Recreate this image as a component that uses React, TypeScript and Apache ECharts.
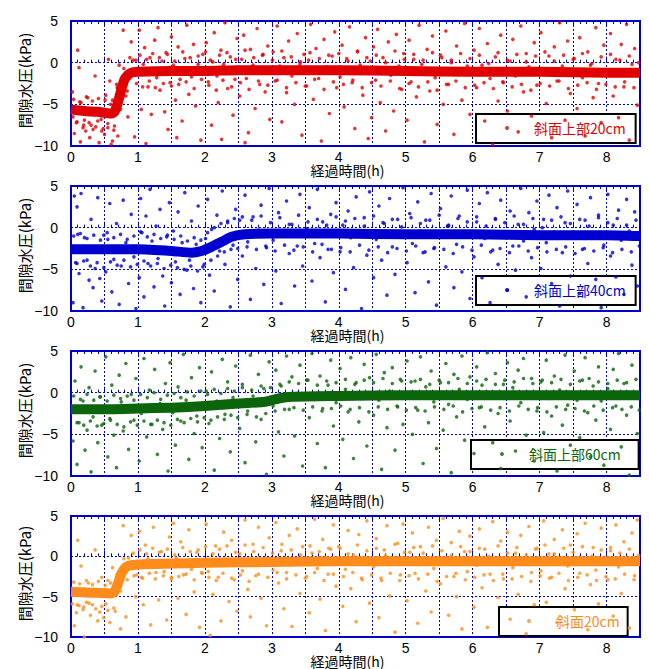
import React, { useEffect, useRef } from "react";
import * as echarts from "echarts";

// ---- data ----
const seriesNames = ["斜面上部20cm", "斜面上部40cm", "斜面上部60cm", "斜面20cm"];
const xAxisName = "経過時間(h)";
const yAxisName = "間隙水圧(kPa)";
const xMin = 0, xMax = 8.5, xStep = 0.5;
const yMin = -10, yMax = 5, yStep = 5;

// dense band (trend of the majority of readings)
const band1 = [[0,-5.6],[0.2,-5.8],[0.4,-5.9],[0.6,-6.1],[0.65,-5.9],[0.7,-4.8],[0.75,-3.3],[0.8,-2.0],[0.85,-1.5],[0.9,-1.2],[1.0,-1.1],[1.5,-1.0],[2,-1.0],[2.5,-0.9],[3,-0.9],[4,-0.9],[5,-1.0],[6,-1.1],[7,-1.1],[8,-1.2],[8.5,-1.2]];
const band2 = [[0,-2.6],[0.5,-2.6],[1,-2.6],[1.5,-2.8],[1.8,-3.0],[1.95,-2.8],[2.1,-2.3],[2.25,-1.7],[2.4,-1.1],[2.6,-0.8],[3,-0.7],[4,-0.7],[5,-0.8],[6,-0.8],[7,-0.9],[8,-0.9],[8.5,-1.0]];
const band3 = [[0,-2.0],[0.5,-2.0],[1,-1.9],[1.5,-1.8],[2,-1.6],[2.5,-1.3],[2.9,-1.1],[3.1,-0.7],[3.3,-0.5],[4,-0.4],[5,-0.3],[6,-0.3],[7,-0.3],[8,-0.3],[8.5,-0.3]];
const band4 = [[0,-4.4],[0.3,-4.5],[0.6,-4.6],[0.65,-4.4],[0.7,-3.4],[0.75,-2.2],[0.8,-1.5],[0.85,-1.2],[0.9,-1.1],[1,-1.0],[1.5,-0.9],[2,-0.8],[3,-0.7],[4,-0.6],[5,-0.6],[6,-0.6],[7,-0.6],[8,-0.6],[8.5,-0.6]];

// scattered readings far from the band
const scatter1 = [[0.02,-3.5],[0.05,-8.5],[0.08,-7.2],[0.1,1.5],[0.12,-0.6],[0.14,-9.5],[0.18,-7.8],[0.2,-6.9],[0.22,-8.2],[0.25,-4.2],[0.28,-9.0],[0.3,-7.5],[0.33,-8.0],[0.36,-1.6],[0.4,-7.0],[0.42,-9.6],[0.45,-6.8],[0.48,-7.9],[0.03,-6.5],[0.15,-4.8],
[0.5,-8.6],[0.52,-3.9],[0.55,-7.3],[0.58,-2.2],[0.6,-9.8],[0.62,-4.5],[0.65,-7.6],[0.68,-2.6],[0.7,-8.8],[0.72,-0.3],[0.78,3.9],[0.82,-4.0],[0.85,-6.5],[0.88,0.6],[0.9,2.5],[0.95,-8.9],[0.97,0.3],[0.56,0.4],[0.62,-9.4],
[1.02,3.9],[1.05,-5.6],[1.08,-0.2],[1.1,1.8],[1.15,-2.9],[1.18,0.6],[1.2,-6.2],[1.25,2.7],[1.28,-1.8],[1.3,4.2],[1.33,-3.3],[1.36,0.2],[1.4,-5.9],[1.42,1.2],[1.45,-8.0],[1.48,-2.4],[1.12,-9.7],
[1.5,3.1],[1.53,-0.3],[1.56,-4.5],[1.6,1.9],[1.63,-2.0],[1.66,-7.0],[1.7,0.5],[1.73,4.5],[1.76,-3.8],[1.8,-1.7],[1.83,2.2],[1.86,-5.2],[1.9,-0.2],[1.94,-9.3],[1.97,1.0],[1.58,-9.0],
[2.02,2.4],[2.05,-2.3],[2.08,0.3],[2.1,-7.5],[2.14,3.6],[2.18,-1.6],[2.2,-4.8],[2.24,1.5],[2.28,-0.2],[2.3,4.8],[2.34,-3.1],[2.38,0.7],[2.42,-6.3],[2.45,-2.0],[2.48,2.9],[2.25,-9.2],
[2.52,-4.0],[2.55,0.4],[2.58,3.3],[2.62,-1.9],[2.65,-8.4],[2.68,1.6],[2.72,-0.3],[2.75,-5.5],[2.78,4.1],[2.82,-2.6],[2.86,0.9],[2.9,-3.5],[2.94,2.0],[2.97,-6.8],[2.6,-9.6],
[3.02,1.3],[3.05,-2.2],[3.08,4.4],[3.12,-0.4],[3.15,-7.1],[3.18,0.6],[3.22,-3.6],[3.25,2.6],[3.3,-1.6],[3.34,-5.0],[3.38,3.5],[3.42,-0.2],[3.45,-8.7],[3.48,1.0],
[3.52,-2.8],[3.55,0.3],[3.58,4.6],[3.62,-4.4],[3.66,1.7],[3.7,-1.9],[3.74,-9.4],[3.78,2.8],[3.82,-0.5],[3.86,-6.1],[3.9,0.8],[3.94,3.7],[3.97,-3.0],
[4.02,-1.7],[4.05,2.1],[4.08,-5.3],[4.12,0.5],[4.16,4.3],[4.2,-2.4],[4.24,-7.9],[4.28,1.4],[4.32,-0.3],[4.36,-3.9],[4.4,3.0],[4.44,-9.1],[4.47,0.2],[4.49,-6.6],
[4.52,1.9],[4.55,-2.1],[4.58,4.0],[4.62,-4.8],[4.66,0.6],[4.7,-8.2],[4.74,2.5],[4.78,-1.5],[4.82,-5.8],[4.86,3.4],[4.9,-0.4],[4.94,-3.2],[4.97,1.1],
[5.02,-6.9],[5.05,2.7],[5.08,-2.3],[5.12,0.4],[5.16,-4.1],[5.2,4.5],[5.24,-0.2],[5.28,-9.5],[5.32,1.6],[5.36,-3.4],[5.4,3.2],[5.44,-1.8],[5.47,-7.4],
[5.52,0.9],[5.56,-5.0],[5.6,3.8],[5.64,-2.6],[5.68,0.3],[5.72,-8.6],[5.76,2.0],[5.8,-1.4],[5.84,-4.5],[5.88,4.7],[5.92,-0.4],[5.96,-6.2],
[6.02,1.5],[6.06,-3.0],[6.1,4.1],[6.14,-0.3],[6.18,-7.0],[6.22,2.3],[6.26,-1.9],[6.3,-9.8],[6.34,0.7],[6.38,-4.6],[6.42,3.3],[6.46,-2.4],
[6.52,-5.8],[6.56,0.2],[6.6,2.8],[6.64,-1.6],[6.68,-8.3],[6.72,4.4],[6.76,-3.5],[6.8,1.1],[6.84,-0.5],[6.88,-6.4],[6.92,2.4],[6.96,-2.7],
[7.02,3.6],[7.06,-1.3],[7.1,-4.9],[7.14,0.8],[7.18,-9.0],[7.22,1.9],[7.26,-2.2],[7.3,4.8],[7.34,-0.4],[7.38,-6.9],[7.42,2.6],[7.46,-3.7],
[7.52,0.5],[7.56,-5.5],[7.6,3.0],[7.64,-1.8],[7.68,-8.8],[7.72,1.3],[7.76,-0.3],[7.8,-4.2],[7.84,4.2],[7.88,-2.5],[7.92,-7.2],[7.96,2.1],
[8.02,-1.5],[8.06,3.5],[8.1,-4.0],[8.14,0.4],[8.18,-6.6],[8.22,2.2],[8.26,-2.9],[8.3,4.6],[8.34,-9.3],[8.38,-0.2],[8.42,1.7],[8.46,-5.1]];

const scatter2 = [[0.03,-9.0],[0.05,3.8],[0.07,-4.2],[0.09,2.5],[0.1,-0.8],[0.12,-5.5],[0.15,4.1],[0.18,-9.6],[0.2,-1.2],[0.24,-3.9],[0.27,-6.3],[0.3,1.0],[0.33,-7.2],[0.36,-4.9],[0.4,3.6],[0.43,-6.1],[0.46,-8.8],[0.49,-0.9],
[0.52,-5.3],[0.55,-1.4],[0.58,2.9],[0.61,-7.7],[0.64,-3.8],[0.68,0.5],[0.72,-9.2],[0.75,-4.6],[0.78,3.3],[0.82,-1.8],[0.86,-6.7],[0.9,1.6],[0.94,-3.5],[0.97,-9.7],
[1.02,-6.0],[1.04,3.5],[1.06,-0.6],[1.09,-8.3],[1.12,1.4],[1.15,-4.3],[1.18,4.6],[1.21,-1.6],[1.24,-7.1],[1.27,0.2],[1.3,-3.7],[1.33,2.2],[1.37,-5.8],[1.4,-9.4],[1.43,-1.1],[1.47,3.0],
[1.5,-6.6],[1.53,-0.4],[1.56,-4.1],[1.6,1.9],[1.63,-8.0],[1.66,-1.8],[1.7,4.2],[1.73,-5.1],[1.77,-3.9],[1.8,0.8],[1.83,-7.3],[1.87,-2.0],[1.9,2.6],[1.94,-9.0],[1.97,-4.7],
[2.01,-1.3],[2.04,3.4],[2.07,-5.7],[2.1,-0.2],[2.14,-7.6],[2.18,1.5],[2.22,-2.8],[2.26,4.4],[2.3,-4.4],[2.34,0.6],[2.38,-9.5],[2.42,-2.1],[2.46,2.2],[2.49,-6.2],
[2.52,0.9],[2.56,-3.4],[2.6,3.9],[2.64,-1.7],[2.68,-8.6],[2.72,1.3],[2.76,-4.9],[2.8,-0.3],[2.84,2.7],[2.88,-6.8],[2.92,-2.4],[2.96,4.7],
[3.02,-1.5],[3.06,-5.2],[3.1,1.8],[3.14,-9.1],[3.18,-0.5],[3.22,3.2],[3.26,-3.1],[3.3,0.4],[3.34,-7.0],[3.38,-2.2],[3.42,4.0],[3.46,-4.6],
[3.52,-0.1],[3.56,2.4],[3.6,-6.4],[3.64,-1.9],[3.68,4.6],[3.72,-3.6],[3.76,0.7],[3.8,-8.9],[3.84,-2.6],[3.88,1.6],[3.92,-5.4],[3.96,3.0],
[4.02,-2.9],[4.06,0.3],[4.1,-7.4],[4.14,2.0],[4.18,-1.2],[4.22,-4.8],[4.26,3.7],[4.3,-0.6],[4.34,-9.7],[4.38,1.2],[4.42,-3.3],[4.46,4.3],
[4.52,-6.0],[4.56,-1.4],[4.6,2.6],[4.64,-3.9],[4.68,0.5],[4.72,-8.1],[4.76,3.5],[4.8,-2.3],[4.84,-5.6],[4.88,1.0],[4.92,-0.8],[4.96,4.8],
[5.02,-4.2],[5.06,1.7],[5.1,-1.9],[5.14,-7.8],[5.18,3.1],[5.22,-0.4],[5.26,-3.0],[5.3,0.9],[5.34,-6.5],[5.38,4.1],[5.42,-2.5],[5.46,-9.3],
[5.52,2.3],[5.56,-1.1],[5.6,-4.7],[5.64,0.2],[5.68,3.8],[5.72,-7.2],[5.76,-2.0],[5.8,1.4],[5.84,-5.3],[5.88,-0.6],[5.92,4.5],[5.96,-8.5],
[6.02,-3.5],[6.06,0.7],[6.1,2.9],[6.14,-6.0],[6.18,-1.3],[6.22,4.2],[6.26,-9.0],[6.3,-2.7],[6.34,1.1],[6.38,-4.4],[6.42,3.3],[6.46,-0.9],
[6.52,-7.5],[6.56,2.0],[6.6,-2.2],[6.64,-5.1],[6.68,0.4],[6.72,4.7],[6.76,-1.6],[6.8,-8.3],[6.84,1.8],[6.88,-3.6],[6.92,-0.2],[6.96,3.2],
[7.02,-4.9],[7.06,1.0],[7.1,-1.8],[7.14,3.9],[7.18,-6.7],[7.22,-0.5],[7.26,2.4],[7.3,-9.4],[7.34,-3.0],[7.38,0.6],[7.42,4.4],[7.46,-5.8],
[7.52,-1.2],[7.56,2.8],[7.6,-7.9],[7.64,-2.6],[7.68,0.9],[7.72,-4.3],[7.76,3.6],[7.8,-0.7],[7.84,-6.2],[7.88,1.5],[7.92,-9.6],[7.96,-2.1],
[8.02,4.0],[8.06,-3.4],[8.1,0.3],[8.14,-5.9],[8.18,2.1],[8.22,-1.5],[8.26,-8.0],[8.3,3.4],[8.34,-0.4],[8.38,-4.5],[8.42,1.9],[8.46,-7.0]];

const scatter3 = [[0.03,-5.8],[0.06,1.4],[0.09,-8.6],[0.12,-3.6],[0.15,3.1],[0.18,-1.0],[0.21,-6.9],[0.24,-4.5],[0.27,0.6],[0.3,-9.5],[0.33,-2.9],[0.36,2.6],[0.4,-6.0],[0.43,-0.5],[0.46,-3.9],
[0.52,4.3],[0.55,-7.7],[0.58,-3.1],[0.61,0.9],[0.64,-5.1],[0.68,-9.0],[0.72,2.1],[0.75,-1.1],[0.78,-4.6],[0.82,3.5],[0.86,-6.8],[0.9,-0.2],[0.94,-3.3],[0.97,1.7],
[1.02,-8.2],[1.05,-2.5],[1.09,4.1],[1.13,-5.3],[1.17,0.3],[1.21,-3.8],[1.25,2.8],[1.29,-7.4],[1.33,-1.3],[1.37,-4.4],[1.41,1.1],[1.45,-9.4],[1.48,3.6],
[1.52,-2.4],[1.56,-6.3],[1.6,0.7],[1.64,-3.4],[1.68,4.6],[1.72,-0.9],[1.76,-8.0],[1.8,1.8],[1.84,-4.9],[1.88,-2.8],[1.92,3.0],[1.96,-6.6],
[2.02,0.2],[2.06,-3.7],[2.1,2.5],[2.14,-9.3],[2.18,-1.0],[2.22,-5.5],[2.26,4.0],[2.3,-2.6],[2.34,1.3],[2.38,-7.1],[2.42,-0.6],[2.46,3.2],
[2.52,-4.3],[2.56,1.0],[2.6,-8.4],[2.64,-2.2],[2.68,4.5],[2.72,-0.4],[2.76,-5.9],[2.8,2.2],[2.84,-3.2],[2.88,0.5],[2.92,-9.8],[2.96,3.7],
[3.02,-1.6],[3.06,2.7],[3.1,-4.7],[3.14,0.8],[3.18,-7.6],[3.22,4.4],[3.26,-2.0],[3.3,1.9],[3.34,-5.2],[3.38,-0.1],[3.42,3.3],[3.46,-8.8],
[3.52,1.5],[3.56,-3.0],[3.6,4.7],[3.64,-0.8],[3.68,-6.1],[3.72,2.0],[3.76,-1.9],[3.8,-9.0],[3.84,0.9],[3.88,3.9],[3.92,-4.0],[3.96,-1.2],
[4.02,2.9],[4.06,-5.6],[4.1,0.4],[4.14,-2.3],[4.18,4.2],[4.22,-7.9],[4.26,1.2],[4.3,-3.5],[4.34,-0.7],[4.38,3.4],[4.42,-6.4],[4.46,1.8],
[4.52,-2.7],[4.56,4.6],[4.6,-0.9],[4.64,-9.2],[4.68,2.4],[4.72,-4.2],[4.76,0.2],[4.8,3.0],[4.84,-6.9],[4.88,-1.7],[4.92,1.6],[4.96,-3.8],
[5.02,3.8],[5.06,-0.6],[5.1,-5.0],[5.14,1.4],[5.18,-2.1],[5.22,4.3],[5.26,-8.5],[5.3,0.7],[5.34,-3.6],[5.38,2.6],[5.42,-1.1],[5.46,-6.7],
[5.52,1.2],[5.56,-4.5],[5.6,3.5],[5.64,-1.4],[5.68,-9.6],[5.72,2.2],[5.76,-2.9],[5.8,0.4],[5.84,4.4],[5.88,-5.7],[5.92,-0.8],[5.96,1.9],
[6.02,-7.3],[6.06,3.1],[6.1,-1.8],[6.14,0.9],[6.18,-4.1],[6.22,4.8],[6.26,-0.5],[6.3,-6.0],[6.34,2.3],[6.38,-2.5],[6.42,-9.1],[6.46,1.0],
[6.52,3.6],[6.56,-3.4],[6.6,0.6],[6.64,-7.0],[6.68,2.7],[6.72,-1.2],[6.76,4.1],[6.8,-5.1],[6.84,-0.3],[6.88,1.7],[6.92,-8.2],[6.96,-2.2],
[7.02,1.3],[7.06,-4.8],[7.1,3.9],[7.14,-0.7],[7.18,-2.8],[7.22,2.0],[7.26,-9.4],[7.3,0.3],[7.34,-3.9],[7.38,4.5],[7.42,-1.5],[7.46,-6.3],
[7.52,2.6],[7.56,-0.9],[7.6,-5.4],[7.64,1.5],[7.68,4.2],[7.72,-2.4],[7.76,-7.7],[7.8,0.8],[7.84,-3.3],[7.88,3.1],[7.92,-1.0],[7.96,-8.7],
[8.02,0.5],[8.06,-4.4],[8.1,2.8],[8.14,-1.6],[8.18,4.7],[8.22,-6.5],[8.26,1.1],[8.3,-2.7],[8.34,-9.9],[8.38,3.3],[8.42,-0.4],[8.46,-4.9]];

const scatter4 = [[0.02,-5.9],[0.05,-8.6],[0.08,-7.0],[0.1,2.0],[0.12,-6.1],[0.15,-1.2],[0.18,-6.6],[0.2,-10],[0.23,-5.7],[0.26,-3.3],[0.29,-7.3],[0.32,-6.0],[0.36,0.8],[0.4,-8.0],[0.43,-6.9],[0.46,-2.6],[0.49,-7.6],
[0.52,-5.9],[0.55,-3.0],[0.58,-8.2],[0.62,-1.4],[0.66,-6.8],[0.7,-2.6],[0.74,-9.0],[0.78,3.8],[0.82,-7.5],[0.86,-0.2],[0.9,2.6],[0.94,-2.4],[0.97,-5.0],
[1.02,3.1],[1.05,-2.6],[1.08,-6.0],[1.11,1.4],[1.15,-0.3],[1.19,-8.5],[1.23,3.6],[1.27,-2.0],[1.31,-5.4],[1.35,0.6],[1.39,-1.9],[1.43,-7.9],[1.47,2.4],
[1.5,-2.8],[1.53,4.1],[1.57,-0.2],[1.6,-5.2],[1.64,1.8],[1.68,-2.3],[1.72,-7.2],[1.76,3.3],[1.8,-1.6],[1.84,-4.4],[1.88,0.5],[1.92,-8.8],[1.96,-2.1],
[2.02,4.0],[2.05,-1.9],[2.08,-9.8],[2.12,-4.7],[2.16,1.3],[2.2,-2.6],[2.24,-8.0],[2.28,3.0],[2.32,-0.6],[2.36,-5.6],[2.4,2.0],[2.44,-2.9],[2.48,-6.8],
[2.52,0.3],[2.56,-1.8],[2.6,4.5],[2.64,-4.1],[2.68,-7.5],[2.72,1.5],[2.76,-2.4],[2.8,3.6],[2.84,-5.2],[2.88,-0.4],[2.92,-8.6],[2.96,2.3],
[3.02,-1.7],[3.06,4.2],[3.1,-3.3],[3.14,0.7],[3.18,-6.5],[3.22,-2.0],[3.26,2.6],[3.3,-8.7],[3.34,-0.3],[3.38,3.4],[3.42,-4.6],[3.46,1.2],
[3.52,-2.5],[3.56,-7.0],[3.6,0.4],[3.64,4.6],[3.68,-1.5],[3.72,-5.3],[3.76,2.1],[3.8,-9.2],[3.84,-2.2],[3.88,0.9],[3.92,3.9],[3.96,-3.7],
[4.02,1.0],[4.06,-6.2],[4.1,-1.6],[4.14,3.2],[4.18,-4.0],[4.22,0.2],[4.26,-8.1],[4.3,2.7],[4.34,-2.7],[4.38,-0.2],[4.42,4.4],[4.46,-5.8],
[4.52,-1.3],[4.56,2.2],[4.6,-7.6],[4.64,-3.0],[4.68,0.8],[4.72,3.8],[4.76,-4.9],[4.8,-0.5],[4.84,-9.4],[4.88,1.6],[4.92,-2.3],[4.96,4.0],
[5.02,-5.5],[5.06,0.5],[5.1,2.9],[5.14,-2.1],[5.18,-8.3],[5.22,1.2],[5.26,-0.2],[5.3,-4.3],[5.34,3.6],[5.38,-6.9],[5.42,-1.5],[5.46,2.0],
[5.52,-3.4],[5.56,4.7],[5.6,-0.4],[5.64,-7.3],[5.68,1.7],[5.72,-2.5],[5.76,-5.0],[5.8,3.1],[5.84,-9.0],[5.88,0.6],[5.92,-1.9],[5.96,2.5],
[6.02,-6.3],[6.06,-1.1],[6.1,3.4],[6.14,-3.9],[6.18,0.9],[6.22,-8.8],[6.26,-2.2],[6.3,4.3],[6.34,-0.7],[6.38,-5.1],[6.42,1.9],[6.46,-2.8],
[6.52,3.0],[6.56,-7.8],[6.6,-1.4],[6.64,0.4],[6.68,-4.7],[6.72,2.6],[6.76,-0.3],[6.8,-9.6],[6.84,3.7],[6.88,-2.0],[6.92,-6.0],[6.96,1.0],
[7.02,-1.8],[7.06,4.4],[7.1,-5.7],[7.14,0.3],[7.18,-2.6],[7.22,2.1],[7.26,-8.2],[7.3,-0.9],[7.34,3.3],[7.38,-4.0],[7.42,-1.2],[7.46,1.4],
[7.52,-6.6],[7.56,2.8],[7.6,-2.1],[7.64,-0.4],[7.68,4.1],[7.72,-9.1],[7.76,-3.5],[7.8,1.1],[7.84,-1.7],[7.88,-5.9],[7.92,3.5],[7.96,-0.6],
[8.02,-2.9],[8.06,0.7],[8.1,-7.4],[8.14,3.9],[8.18,-1.3],[8.22,-4.6],[8.26,1.8],[8.3,-0.8],[8.34,-8.9],[8.38,2.9],[8.42,-2.4],[8.46,4.5]];

// readings close to the band (fuzz around it)
const near1 = [[0.04,-4.4],[0.09,-7.1],[0.13,-4.7],[0.19,-7.5],[0.23,-4.1],[0.27,-7.2],[0.32,-4.6],[0.37,-7.7],[0.41,-4.3],[0.46,-8.2],[0.51,-4.5],[0.55,-7.8],[0.59,-5.0],[0.64,-8.1],[0.69,-3.0],[0.74,-5.6],[0.79,-0.7],[0.84,-3.4],
[0.93,0.3],[0.98,-2.5],[1.03,0.9],[1.07,-2.9],[1.13,0.4],[1.17,-2.2],[1.22,1.1],[1.26,-3.0],[1.32,0.6],[1.38,-2.5],[1.44,1.0],[1.5,-2.8],[1.55,0.2],[1.61,-2.6],[1.67,1.3],[1.72,-2.3],[1.78,0.6],[1.84,-3.1],[1.9,0.8],[1.95,-2.0],
[2.01,1.3],[2.06,-2.7],[2.12,0.1],[2.17,-3.3],[2.22,0.9],[2.27,-2.1],[2.33,1.2],[2.4,-2.9],[2.46,0.4],[2.53,-2.4],[2.6,1.5],[2.66,-3.2],[2.73,0.6],[2.8,-2.2],[2.87,1.0],[2.94,-2.7],
[3.01,0.3],[3.08,-2.1],[3.15,1.4],[3.22,-3.0],[3.29,0.7],[3.36,-2.4],[3.43,0.1],[3.5,-2.8],[3.57,1.2],[3.64,-2.0],[3.71,0.5],[3.78,-3.2],[3.85,0.9],[3.92,-2.3],
[4.0,1.1],[4.07,-2.6],[4.14,0.2],[4.21,-2.1],[4.28,1.3],[4.35,-3.0],[4.42,0.6],[4.49,-2.4],[4.56,0.9],[4.63,-2.8],[4.7,0.0],[4.77,-2.2],[4.84,1.4],[4.91,-3.1],
[4.98,0.4],[5.05,-2.5],[5.12,1.0],[5.19,-2.9],[5.26,0.3],[5.33,-2.3],[5.4,1.2],[5.47,-3.3],[5.54,0.6],[5.61,-2.6],[5.68,0.0],[5.75,-2.2],[5.82,1.1],[5.89,-3.0],
[5.96,0.5],[6.03,-2.7],[6.1,0.9],[6.17,-2.4],[6.24,-0.1],[6.31,-3.1],[6.38,1.2],[6.45,-2.3],[6.52,0.3],[6.59,-2.9],[6.66,1.0],[6.73,-2.6],[6.8,0.1],[6.87,-3.3],
[6.94,0.8],[7.01,-2.5],[7.08,1.3],[7.15,-2.8],[7.22,0.2],[7.29,-2.2],[7.36,0.9],[7.43,-3.1],[7.5,0.4],[7.57,-2.7],[7.64,1.1],[7.71,-2.4],[7.78,-0.1],[7.85,-3.2],
[7.92,0.7],[7.99,-2.6],[8.06,1.0],[8.13,-2.9],[8.2,0.3],[8.27,-2.3],[8.34,0.8],[8.41,-3.0],[8.48,0.0]];

const near2 = [[0.04,-1.0],[0.09,-4.3],[0.14,-0.7],[0.19,-4.0],[0.24,-1.3],[0.29,-4.6],[0.34,-0.9],[0.39,-4.2],[0.44,-1.5],[0.49,-4.8],[0.54,-0.6],[0.59,-4.1],[0.64,-1.2],[0.69,-4.5],[0.74,-0.8],[0.79,-3.9],[0.84,-1.4],[0.89,-4.7],[0.94,-1.0],[0.99,-4.4],
[1.04,-0.5],[1.09,-4.0],[1.14,-1.1],[1.19,-4.6],[1.24,-0.8],[1.29,-4.3],[1.34,-1.3],[1.39,-4.9],[1.44,-0.9],[1.49,-4.5],[1.54,-1.4],[1.59,-4.8],[1.64,-1.0],[1.69,-5.0],[1.74,-1.6],[1.79,-4.6],[1.84,-1.2],[1.89,-5.2],[1.94,-1.5],[1.99,-4.4],
[2.04,-0.6],[2.09,-3.9],[2.14,0.0],[2.19,-3.4],[2.24,0.5],[2.29,-2.9],[2.34,0.8],[2.39,-2.6],[2.44,1.1],[2.49,-2.5],[2.56,1.3],[2.63,-2.3],[2.7,0.9],[2.77,-2.6],[2.84,1.4],[2.91,-2.2],[2.98,0.6],
[3.05,-2.8],[3.12,1.2],[3.19,-2.1],[3.26,0.4],[3.33,-2.7],[3.4,1.5],[3.47,-2.3],[3.54,0.7],[3.61,-2.9],[3.68,1.0],[3.75,-2.0],[3.82,0.3],[3.89,-2.6],[3.96,1.3],
[4.03,-2.4],[4.1,0.8],[4.17,-2.9],[4.24,1.1],[4.31,-2.1],[4.38,0.2],[4.45,-2.7],[4.52,1.4],[4.59,-2.3],[4.66,0.6],[4.73,-3.0],[4.8,1.0],[4.87,-2.5],[4.94,0.1],
[5.01,-2.8],[5.08,1.2],[5.15,-2.2],[5.22,0.5],[5.29,-2.9],[5.36,0.9],[5.43,-2.4],[5.5,1.5],[5.57,-2.6],[5.64,0.3],[5.71,-3.1],[5.78,1.1],[5.85,-2.3],[5.92,0.7],
[5.99,-2.7],[6.06,1.3],[6.13,-2.1],[6.2,0.2],[6.27,-2.9],[6.34,1.0],[6.41,-2.5],[6.48,0.6],[6.55,-3.0],[6.62,1.4],[6.69,-2.2],[6.76,0.4],[6.83,-2.8],[6.9,1.1],
[6.97,-2.4],[7.04,0.0],[7.11,-2.9],[7.18,0.9],[7.25,-2.6],[7.32,1.3],[7.39,-2.3],[7.46,0.5],[7.53,-3.1],[7.6,1.0],[7.67,-2.5],[7.74,0.2],[7.81,-2.8],[7.88,1.2],
[7.95,-2.4],[8.02,0.6],[8.09,-3.0],[8.16,1.1],[8.23,-2.6],[8.3,0.3],[8.37,-2.9],[8.44,0.9],[8.49,-2.2]];

const near3 = [[0.04,-0.4],[0.09,-3.6],[0.14,-0.8],[0.19,-3.9],[0.24,-0.2],[0.29,-3.4],[0.34,-0.9],[0.39,-4.0],[0.44,-0.5],[0.49,-3.7],[0.54,-1.0],[0.59,-3.3],[0.64,-0.3],[0.69,-3.8],[0.74,-0.7],[0.79,-4.1],[0.84,-0.4],[0.89,-3.5],[0.94,-0.9],[0.99,-3.9],
[1.04,-0.2],[1.09,-3.4],[1.14,-0.6],[1.19,-3.8],[1.24,0.0],[1.29,-3.3],[1.34,-0.8],[1.39,-3.6],[1.44,-0.3],[1.49,-3.9],[1.54,-0.1],[1.59,-3.2],[1.64,-0.6],[1.69,-3.6],[1.74,0.1],[1.79,-3.1],[1.84,-0.4],[1.89,-3.5],[1.94,0.2],[1.99,-3.0],
[2.04,-0.2],[2.09,-3.3],[2.14,0.4],[2.19,-2.9],[2.24,-0.1],[2.29,-3.2],[2.34,0.5],[2.39,-2.7],[2.44,0.2],[2.49,-3.0],[2.56,0.6],[2.63,-2.6],[2.7,0.3],[2.77,-2.9],[2.84,0.8],[2.91,-2.5],[2.98,0.6],
[3.05,-2.2],[3.12,1.0],[3.19,-2.0],[3.26,1.3],[3.33,-1.8],[3.4,1.1],[3.47,-2.1],[3.54,1.5],[3.61,-1.7],[3.68,0.9],[3.75,-2.2],[3.82,1.4],[3.89,-1.9],[3.96,1.2],
[4.03,-1.6],[4.1,1.6],[4.17,-2.0],[4.24,1.0],[4.31,-1.8],[4.38,1.5],[4.45,-2.3],[4.52,1.2],[4.59,-1.7],[4.66,1.7],[4.73,-2.0],[4.8,1.1],[4.87,-1.6],[4.94,1.4],
[5.01,-2.1],[5.08,1.3],[5.15,-1.8],[5.22,1.6],[5.29,-2.2],[5.36,1.0],[5.43,-1.7],[5.5,1.5],[5.57,-2.0],[5.64,1.2],[5.71,-1.6],[5.78,1.7],[5.85,-2.3],[5.92,1.1],
[5.99,-1.9],[6.06,1.4],[6.13,-1.7],[6.2,1.6],[6.27,-2.1],[6.34,1.0],[6.41,-1.8],[6.48,1.5],[6.55,-2.2],[6.62,1.3],[6.69,-1.6],[6.76,1.7],[6.83,-2.0],[6.9,1.1],
[6.97,-1.8],[7.04,1.5],[7.11,-2.3],[7.18,1.2],[7.25,-1.7],[7.32,1.6],[7.39,-2.0],[7.46,1.0],[7.53,-1.9],[7.6,1.4],[7.67,-2.2],[7.74,1.7],[7.81,-1.6],[7.88,1.3],
[7.95,-2.1],[8.02,1.1],[8.09,-1.8],[8.16,1.5],[8.23,-2.0],[8.3,1.2],[8.37,-1.7],[8.44,1.6],[8.49,-2.1]];

const near4 = [[0.04,-3.2],[0.09,-6.0],[0.13,-3.4],[0.19,-6.3],[0.23,-3.0],[0.27,-5.8],[0.32,-3.5],[0.37,-6.5],[0.41,-3.1],[0.46,-6.2],[0.51,-3.6],[0.55,-6.7],[0.59,-3.3],[0.64,-6.4],[0.69,-2.2],[0.74,-4.3],[0.79,-0.3],[0.84,-2.9],
[0.93,0.4],[0.98,-2.3],[1.03,0.8],[1.07,-2.7],[1.13,0.3],[1.17,-2.1],[1.22,1.0],[1.26,-2.8],[1.32,0.5],[1.38,-2.4],[1.44,0.9],[1.5,-2.6],[1.55,0.2],[1.61,-2.5],[1.67,1.1],[1.72,-2.2],[1.78,0.6],[1.84,-2.9],[1.9,0.8],[1.95,-2.0],
[2.01,1.2],[2.06,-2.6],[2.12,0.3],[2.17,-3.0],[2.22,0.9],[2.27,-2.1],[2.33,1.3],[2.4,-2.7],[2.46,0.5],[2.53,-2.3],[2.6,1.4],[2.66,-3.1],[2.73,0.6],[2.8,-2.2],[2.87,1.1],[2.94,-2.6],
[3.01,0.4],[3.08,-2.0],[3.15,1.5],[3.22,-2.8],[3.29,0.8],[3.36,-2.3],[3.43,0.2],[3.5,-2.7],[3.57,1.3],[3.64,-2.0],[3.71,0.6],[3.78,-3.0],[3.85,1.0],[3.92,-2.2],
[4.0,1.2],[4.07,-2.5],[4.14,0.3],[4.21,-2.0],[4.28,1.4],[4.35,-2.9],[4.42,0.7],[4.49,-2.3],[4.56,1.0],[4.63,-2.7],[4.7,0.1],[4.77,-2.1],[4.84,1.5],[4.91,-3.0],
[4.98,0.5],[5.05,-2.4],[5.12,1.1],[5.19,-2.8],[5.26,0.4],[5.33,-2.2],[5.4,1.3],[5.47,-3.1],[5.54,0.7],[5.61,-2.5],[5.68,0.1],[5.75,-2.1],[5.82,1.2],[5.89,-2.9],
[5.96,0.6],[6.03,-2.6],[6.1,1.0],[6.17,-2.3],[6.24,0.0],[6.31,-3.0],[6.38,1.3],[6.45,-2.2],[6.52,0.4],[6.59,-2.8],[6.66,1.1],[6.73,-2.5],[6.8,0.2],[6.87,-3.1],
[6.94,0.9],[7.01,-2.4],[7.08,1.4],[7.15,-2.7],[7.22,0.3],[7.29,-2.1],[7.36,1.0],[7.43,-3.0],[7.5,0.5],[7.57,-2.6],[7.64,1.2],[7.71,-2.3],[7.78,0.0],[7.85,-3.0],
[7.92,0.8],[7.99,-2.5],[8.06,1.1],[8.13,-2.8],[8.2,0.4],[8.27,-2.2],[8.34,0.9],[8.41,-2.9],[8.48,0.1]];

const bands = [band1, band2, band3, band4];
const scatters = [scatter1, scatter2, scatter3, scatter4];
const nears = [near1, near2, near3, near4];

// ---- styles / layout ----
const colors = ["#e00000", "#0000d0", "#0b650b", "#ff8c1a"];
const frameColor = "#0000cc";
const gridTops = [21, 186, 351, 516];
const gridLeft = 71;
const gridWidth = 569;
const gridHeight = 125;
// legend box: left, top, padding [t, r, b, l]
const legendPos = [
  { left: 476, top: 114, pad: [7, 10, 8, 29] },
  { left: 476, top: 276, pad: [7, 10, 8, 29] },
  { left: 471, top: 440, pad: [7, 18, 8, 29] },
  { left: 499, top: 607, pad: [7, 8, 8, 28] },
];
const numFont = "'Liberation Sans', Arial, 'Noto Sans CJK JP', sans-serif";
const jpFont = "'Noto Sans CJK JP', 'Liberation Sans', sans-serif";

function buildOption() {
  const grid: any[] = [];
  const xAxis: any[] = [];
  const yAxis: any[] = [];
  const series: any[] = [];
  const legend: any[] = [];
  for (let i = 0; i < 4; i++) {
    grid.push({
      left: gridLeft, top: gridTops[i], width: gridWidth, height: gridHeight,
      show: true, borderColor: frameColor, borderWidth: 2, backgroundColor: "transparent",
    });
    xAxis.push({
      type: "value", gridIndex: i, min: xMin, max: xMax, interval: xStep,
      name: xAxisName, nameLocation: "middle", nameGap: 17, nameMoveOverlap: false,
      nameTextStyle: { fontFamily: jpFont, fontSize: 14, color: "#000", padding: [0, 16, 0, 0] },
      axisLine: { show: false },
      axisTick: { show: true, inside: true, length: 6, lineStyle: { color: frameColor, width: 1 } },
      minorTick: { show: true, splitNumber: 5, length: 3, lineStyle: { color: frameColor, width: 1 } },
      axisLabel: {
        margin: 4, fontSize: 14, color: "#000", fontFamily: numFont,
        formatter: (v: number) => (Math.abs(v - Math.round(v)) < 1e-6 ? String(Math.round(v)) : ""),
      },
      splitLine: { show: true, lineStyle: { color: frameColor, type: [2, 2], width: 1 } },
    });
    xAxis.push({
      type: "value", gridIndex: i, position: "top", min: xMin, max: xMax, interval: xStep,
      axisLine: { show: false },
      axisTick: { show: true, inside: true, length: 6, lineStyle: { color: frameColor, width: 1 } },
      minorTick: { show: true, splitNumber: 5, length: 3, lineStyle: { color: frameColor, width: 1 } },
      axisLabel: { show: false },
      splitLine: { show: false },
    });
    yAxis.push({
      type: "value", gridIndex: i, min: yMin, max: yMax, interval: yStep,
      name: yAxisName, nameLocation: "middle", nameGap: 39, nameRotate: 90, nameMoveOverlap: false,
      nameTextStyle: { fontFamily: jpFont, fontSize: 15, color: "#000", padding: [0, 0, 0, 6] },
      axisLine: { show: false },
      axisTick: { show: false },
      axisLabel: {
        margin: 13, fontSize: 14, color: "#000", fontFamily: numFont,
        formatter: (v: number) => String(v).replace("-", "\u2212"),
      },
      splitLine: { show: true, lineStyle: { color: frameColor, type: [2, 2], width: 1 } },
    });
    series.push({
      type: "line", name: "band" + i, xAxisIndex: i * 2, yAxisIndex: i,
      data: bands[i], symbol: "none", smooth: 0.2,
      lineStyle: { color: colors[i], width: 10, join: "round", cap: "butt" },
      z: 3,
    });
    series.push({
      type: "scatter", name: seriesNames[i], xAxisIndex: i * 2, yAxisIndex: i,
      data: scatters[i].concat(nears[i]), symbol: "circle", symbolSize: 3.6,
      itemStyle: { color: colors[i] },
      z: 4,
    });
    const lp = legendPos[i];
    legend.push({
      data: [seriesNames[i]], left: lp.left, top: lp.top, padding: lp.pad,
      borderColor: "#000", borderWidth: 2, backgroundColor: "#fff",
      icon: "circle", itemWidth: 4, itemHeight: 4, selectedMode: false,
      textStyle: { color: colors[i], fontSize: 14, fontFamily: jpFont, padding: [0, 0, 0, 20] },
    });
  }
  return { animation: false, backgroundColor: "#fff", grid, xAxis, yAxis, series, legend };
}

export default function App() {
  const ref = useRef<HTMLDivElement>(null);
  useEffect(() => {
    if (!ref.current) return;
    const chart = echarts.init(ref.current, null, { renderer: "svg" });
    chart.setOption(buildOption() as any);
    return () => chart.dispose();
  }, []);
  return (
    <div
      ref={ref}
      style={{ position: "absolute", left: 0, top: 0, width: 649, height: 669 }}
    />
  );
}
